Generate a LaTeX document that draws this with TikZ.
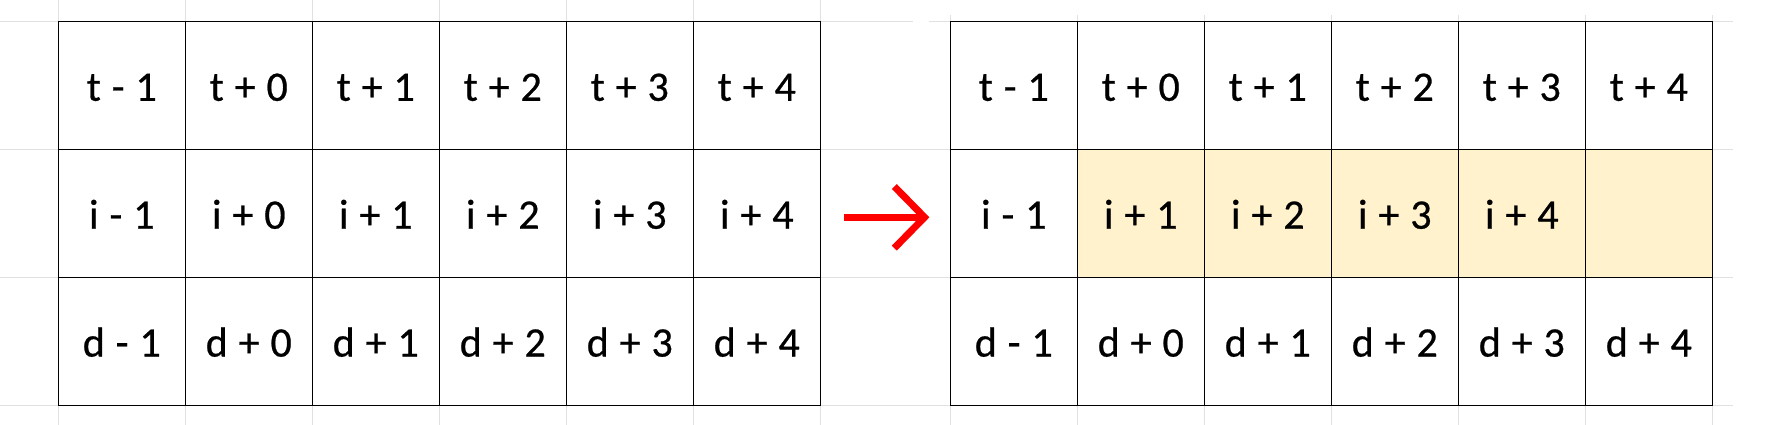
\documentclass[tikz,border=0pt]{standalone}
\usepackage{fontspec}
\setmainfont{Carlito}
\newfontfamily\cellfont[FakeBold=0.6,WordSpace=1.15]{Carlito}
\definecolor{gridgray}{HTML}{E1E1E1}
\definecolor{hilite}{HTML}{FFF2CC}
\definecolor{arrowred}{HTML}{FF0000}
\begin{document}
\begin{tikzpicture}[x=1pt,y=-1pt,
  gridline/.style={draw=gridgray,line width=1pt},
  cell/.style={draw=black,line width=1.2pt,minimum width=127pt,minimum height=128pt,inner sep=0pt,outer sep=0pt},
  hicell/.style={cell,fill=hilite},
  celltext/.style={anchor=base,inner sep=0pt,font=\cellfont\fontsize{42}{42}\selectfont},
  redline/.style={draw=arrowred,line width=7pt}]
\useasboundingbox (0,0) rectangle (1774,425);
% spreadsheet grid, left screenshot
\foreach \y in {149.3,277,405.3} \draw[gridline] (0,\y) -- (950,\y);
\draw[gridline] (0,21.3) -- (913,21.3);
\foreach \k in {0,...,6} \draw[gridline] (58.3+127*\k,0) -- (58.3+127*\k,425);
% spreadsheet grid, right screenshot
\foreach \y in {21.3,149.3,277,405.3} \draw[gridline] (929,\y) -- (1732.7,\y);
\foreach \k in {0,...,6} \draw[gridline] (950.3+127*\k,15) -- (950.3+127*\k,425);
% left table
\foreach \r/\ch in {0/t,1/i,2/d}{
  \foreach \c/\lab in {0/- 1,1/+ 0,2/+ 1,3/+ 2,4/+ 3,5/+ 4}{
    \node[cell] (L-\r-\c) at (121.8+127*\c,85.3+127.9*\r) {};
    \node[celltext] (LT-\r-\c) at ([yshift=-15.5pt]L-\r-\c.center) {\ch{} \lab};
  }
}
% right table, rows 1 and 3
\foreach \r/\ch in {0/t,2/d}{
  \foreach \c/\lab in {0/- 1,1/+ 0,2/+ 1,3/+ 2,4/+ 3,5/+ 4}{
    \node[cell] (R-\r-\c) at (1013.8+127*\c,85.3+127.9*\r) {};
    \node[celltext] (RT-\r-\c) at ([yshift=-15.5pt]R-\r-\c.center) {\ch{} \lab};
  }
}
% right table, middle row
\node[cell] (R-1-0) at (1013.8,213.2) {};
\node[celltext] (RT-1-0) at ([yshift=-15.5pt]R-1-0.center) {i - 1};
\foreach \c/\lab in {1/i + 1,2/i + 2,3/i + 3,4/i + 4,5/}{
  \node[hicell] (R-1-\c) at (1013.8+127*\c,213.2) {};
  \node[celltext] (RT-1-\c) at ([yshift=-15.5pt]R-1-\c.center) {\lab};
}
% arrow
\coordinate (ashaft) at (844,217.3);
\coordinate (atip) at (924.5,217.3);
\coordinate (aup) at (894.3,186.5);
\coordinate (alow) at (894.3,248.1);
\draw[redline] (ashaft) -- (atip);
\draw[redline,miter limit=10] (aup) -- (atip) -- (alow);
\end{tikzpicture}
\end{document}
